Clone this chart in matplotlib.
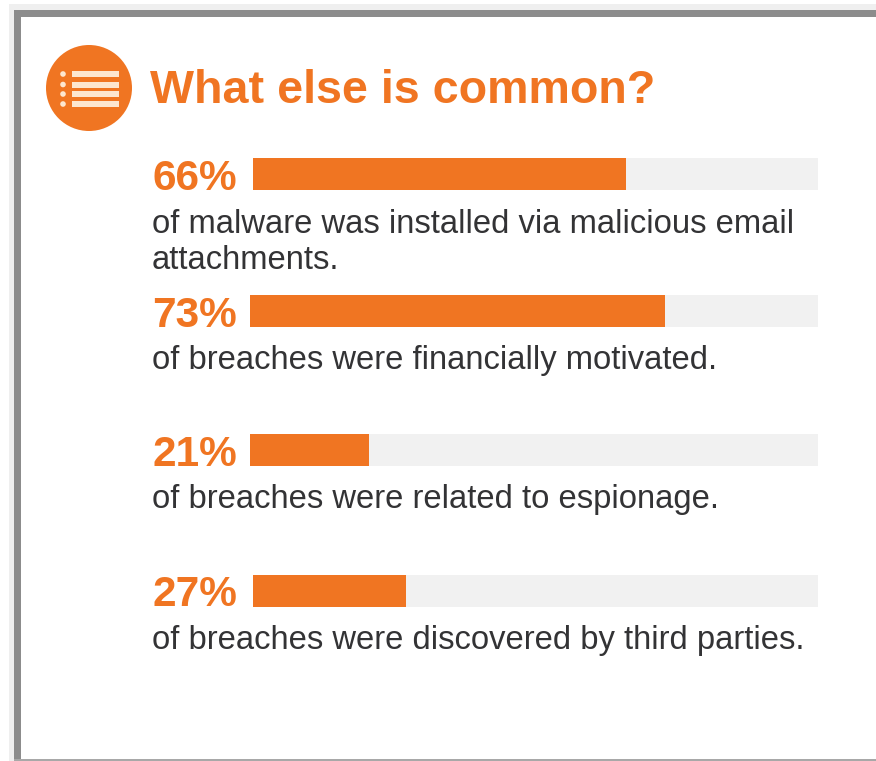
import matplotlib
matplotlib.use("Agg")
import matplotlib.pyplot as plt
from matplotlib.patches import Circle, Rectangle

W, H = 876, 761

title = "What else is common?"
percents = [66, 73, 21, 27]
captions = [
    "of malware was installed via malicious email\nattachments.",
    "of breaches were financially motivated.",
    "of breaches were related to espionage.",
    "of breaches were discovered by third parties.",
]
bar_left = [253, 250, 250, 253]
bar_top = [158, 295, 434, 575]
label_base = [190, 327, 466, 606]
caption_base = [233, 369, 508, 649]

ORANGE = "#F07522"
TRACK = "#F1F1F1"
INK = "#333335"
FRAME = "#8C8C8C"
PALE = "#FDE6CF"

plt.rcParams["font.family"] = ["Liberation Sans", "DejaVu Sans"]

fig = plt.figure(figsize=(W / 100, H / 100), dpi=100, facecolor="white")

# Page layer in pixel coordinates, y running downward
page = fig.add_axes([0, 0, 1, 1])
page.set_xlim(0, W)
page.set_ylim(H, 0)
page.axis("off")

# Panel frame with its pale outer edge
page.add_patch(Rectangle((9, 4), W, 6, color="#EFEFEF", lw=0))
page.add_patch(Rectangle((9, 4), 5, H, color="#EFEFEF", lw=0))
page.add_patch(Rectangle((14, 10), W, 7, color=FRAME, lw=0))
page.add_patch(Rectangle((14, 10), 7, H, color=FRAME, lw=0))
page.add_patch(Rectangle((14, 759), W, 2, color="#A8A8A8", lw=0))

# Round list icon
page.add_patch(Circle((89, 88), 43, color=ORANGE, lw=0))
for y in (74, 84.5, 94, 104):
    page.add_patch(Rectangle((72, y - 3), 47, 6, color=PALE, lw=0))
    page.add_patch(Circle((63, y), 2.8, color=PALE, lw=0))

page.text(150, 103, title, color=ORANGE, fontsize=33.6, fontweight="bold",
          va="baseline", ha="left")

for pct, cap, left, top, base, cap_y in zip(
        percents, captions, bar_left, bar_top, label_base, caption_base):
    page.text(152, base, f"{pct}%", color=ORANGE, fontsize=30.5,
              fontweight="bold", va="baseline", ha="left")
    for i, line in enumerate(cap.split("\n")):
        page.text(152, cap_y + 36 * i, line, color=INK, fontsize=23.6,
                  va="baseline", ha="left")

    # Each meter is its own 0-100 axis between the bar start and the track end
    ax = fig.add_axes([left / W, 1 - (top + 32) / H, (818 - left) / W, 32 / H])
    ax.set_xlim(0, 100)
    ax.set_ylim(0, 1)
    ax.axis("off")
    ax.barh(0.5, 100, height=1, color=TRACK, lw=0)
    ax.barh(0.5, pct, height=1, color=ORANGE, lw=0)

fig.savefig("out.png", dpi=100)
